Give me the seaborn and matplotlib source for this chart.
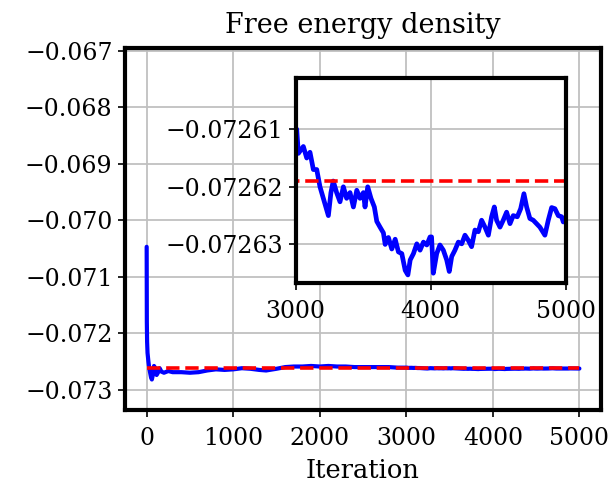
import matplotlib
matplotlib.use("Agg")
import matplotlib.pyplot as plt
import seaborn as sns
import pandas as pd
from matplotlib.ticker import FuncFormatter

# ---------------- data ----------------
iterations = [0, 2, 5, 10, 20, 30, 40, 50, 60, 70, 85, 100, 115, 130, 150, 170, 200,
              250, 300, 400, 500, 600, 700, 800, 900, 1000, 1100, 1200, 1300, 1380,
              1500, 1600, 1700, 1800, 1900, 2000, 2100, 2200, 2300, 2400, 2500, 2600,
              2700, 2800, 2900,
              3000, 3009, 3021, 3058, 3083, 3107, 3132, 3157, 3181, 3206, 3231, 3243,
              3262, 3279, 3304, 3329, 3354, 3378, 3403, 3428, 3453, 3477, 3502, 3514,
              3534, 3558, 3583, 3601, 3625, 3650, 3663, 3687, 3712, 3737, 3761, 3786,
              3811, 3831, 3848, 3872, 3897, 3921, 3946, 3971, 3995, 4006, 4019, 4044,
              4068, 4093, 4118, 4137, 4155, 4179, 4204, 4229, 4253, 4278, 4302, 4327,
              4352, 4376, 4401, 4426, 4450, 4470, 4487, 4512, 4536, 4561, 4586, 4610,
              4640, 4665, 4689, 4709, 4733, 4758, 4783, 4807, 4844, 4869, 4894, 4918,
              4943, 4968, 4980, 5000]
free_energy = [-0.07047, -0.07180, -0.07215, -0.07235, -0.07250, -0.07262, -0.07270,
               -0.07278, -0.07282, -0.07275, -0.07258, -0.07262, -0.07274, -0.07270,
               -0.07262, -0.07268, -0.07270, -0.07267, -0.07269, -0.07269, -0.07270,
               -0.07269, -0.07266, -0.07264, -0.07265, -0.07264, -0.07262, -0.07263,
               -0.07265, -0.07266, -0.07263, -0.07260, -0.07259, -0.07259, -0.07258,
               -0.07259, -0.07258, -0.07259, -0.07259, -0.07260, -0.07260, -0.07260,
               -0.07260, -0.07260, -0.07261,
               -0.0726100, -0.0726100, -0.0726142, -0.0726130, -0.0726150, -0.0726140,
               -0.0726170, -0.0726170, -0.0726200, -0.0726220, -0.0726240, -0.0726250,
               -0.0726210, -0.0726190, -0.0726210, -0.0726226, -0.0726200, -0.0726220,
               -0.0726210, -0.0726235, -0.0726206, -0.0726220, -0.0726210, -0.0726235,
               -0.0726200, -0.0726220, -0.0726235, -0.0726260, -0.0726270, -0.0726280,
               -0.0726300, -0.0726288, -0.0726308, -0.0726291, -0.0726313, -0.0726316,
               -0.0726345, -0.0726353, -0.0726327, -0.0726316, -0.0726299, -0.0726310,
               -0.0726296, -0.0726301, -0.0726287, -0.0726287, -0.0726350, -0.0726316,
               -0.0726301, -0.0726310, -0.0726327, -0.0726347, -0.0726321, -0.0726310,
               -0.0726296, -0.0726299, -0.0726284, -0.0726293, -0.0726304, -0.0726275,
               -0.0726278, -0.0726258, -0.0726270, -0.0726284, -0.0726252, -0.0726235,
               -0.0726258, -0.0726270, -0.0726258, -0.0726244, -0.0726264, -0.0726250,
               -0.0726252, -0.0726238, -0.0726212, -0.0726235, -0.0726255, -0.0726258,
               -0.0726264, -0.0726270, -0.0726284, -0.0726258, -0.0726236, -0.0726238,
               -0.0726250, -0.0726252, -0.0726261, -0.0726260]
reference_x = [0, 5000]
reference_value = [-0.072619, -0.072619]

main_xticks = [0, 1000, 2000, 3000, 4000, 5000]
main_yticks = [-0.073, -0.072, -0.071, -0.070, -0.069, -0.068, -0.067]
inset_xticks = [3000, 4000, 5000]
inset_yticks = [-0.07263, -0.07262, -0.07261]

title = "Free energy density"
xlabel = "Iteration"

# ---------------- style ----------------
sns.set_style("whitegrid")
plt.rcParams['font.family'] = ['DejaVu Serif']
plt.rcParams['mathtext.fontset'] = 'dejavuserif'

df = pd.DataFrame({"Iteration": iterations, "F": free_energy})
ref = pd.DataFrame({"Iteration": reference_x, "F": reference_value})

fig = plt.figure(figsize=(6.15, 4.87), dpi=100)
ax = fig.add_axes([0.2033, 0.1581, 0.774, 0.7433])
ins = fig.add_axes([0.4805, 0.4189, 0.4398, 0.421])


def minus_fmt(fmt):
    return FuncFormatter(lambda v, p: (fmt % v).replace('-', '\u2212'))


for a, lw_line in ((ax, 3.0), (ins, 3.4)):
    sns.lineplot(data=df, x="Iteration", y="F", ax=a, color="blue",
                 linewidth=lw_line, estimator=None, sort=False)
    sns.lineplot(data=ref, x="Iteration", y="F", ax=a, color="red",
                 linewidth=2.6, linestyle="--", estimator=None)
    a.grid(True, color="#c0c0c0", linewidth=1.3)
    for s in a.spines.values():
        s.set_color("black")
        s.set_linewidth(3.0)
    a.tick_params(axis="both", which="major", direction="out", length=5, width=1.2,
                  color="black", bottom=True, left=True, labelsize=17,
                  labelcolor="black", pad=4)
    a.tick_params(axis="x", pad=7)
    a.set_xlabel("")
    a.set_ylabel("")

ax.set_xlim(-250, 5250)
ax.set_ylim(-0.07336, -0.06695)
ax.set_xticks(main_xticks)
ax.set_yticks(main_yticks)
ax.yaxis.set_major_formatter(minus_fmt("%.3f"))
ax.xaxis.set_major_formatter(FuncFormatter(lambda v, p: "%d" % v))
ax.set_title(title, fontsize=19.5, pad=11, color="black")
ax.set_xlabel(xlabel, fontsize=18.5, color="black", labelpad=6)

ins.set_xlim(3000, 5000)
ins.set_ylim(-0.0726367, -0.0726011)
ins.set_xticks(inset_xticks)
ins.set_yticks(inset_yticks)
ins.yaxis.set_major_formatter(minus_fmt("%.5f"))
ins.xaxis.set_major_formatter(FuncFormatter(lambda v, p: "%d" % v))
ins.set_facecolor("white")

fig.savefig("out.png", dpi=100)
